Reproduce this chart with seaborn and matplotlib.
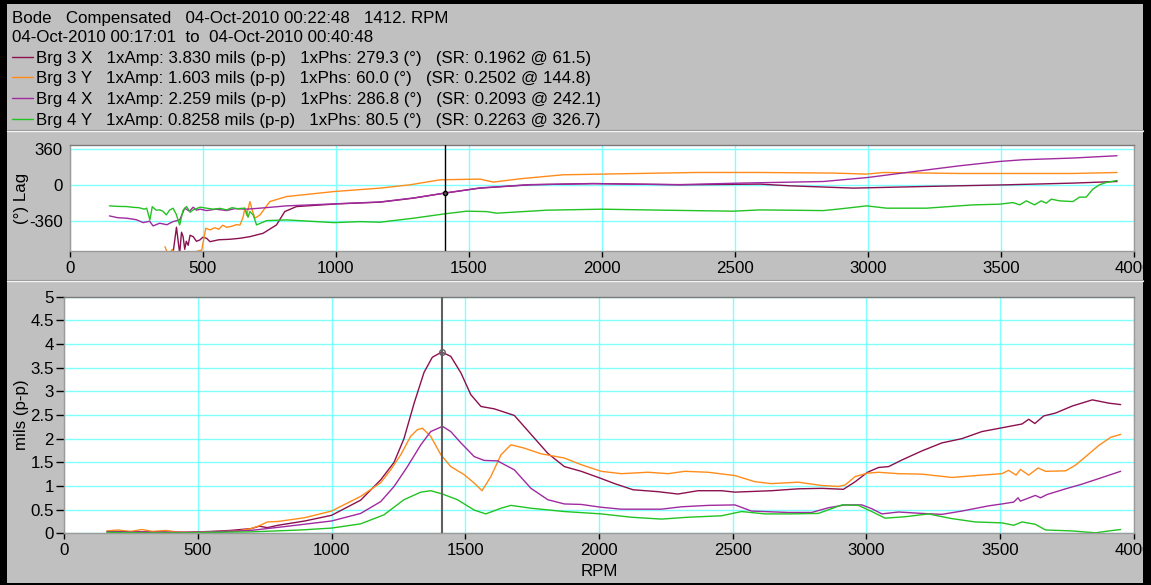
import pandas as pd
import matplotlib.pyplot as plt
import seaborn as sns
from matplotlib.patches import Rectangle
from matplotlib.lines import Line2D

# === Series names, colours and header info ===
series = ["Brg 3 X", "Brg 3 Y", "Brg 4 X", "Brg 4 Y"]
colors = ["#8B1050", "#FF8C1A", "#A02AA0", "#22C322"]
info = [
    "1xAmp: 3.830 mils (p-p)   1xPhs: 279.3 (°)   (SR: 0.1962 @ 61.5)",
    "1xAmp: 1.603 mils (p-p)   1xPhs: 60.0 (°)   (SR: 0.2502 @ 144.8)",
    "1xAmp: 2.259 mils (p-p)   1xPhs: 286.8 (°)   (SR: 0.2093 @ 242.1)",
    "1xAmp: 0.8258 mils (p-p)   1xPhs: 80.5 (°)   (SR: 0.2263 @ 326.7)",
]
header_1 = "Bode   Compensated   04-Oct-2010 00:22:48   1412. RPM"
header_2 = "04-Oct-2010 00:17:01  to  04-Oct-2010 00:40:48"
cursor_rpm = 1412
cursor_amp = 3.83
cursor_lag = -80

x_ticks = [0, 500, 1000, 1500, 2000, 2500, 3000, 3500, 4000]
amp_ticks = [0, 0.5, 1, 1.5, 2, 2.5, 3, 3.5, 4, 4.5, 5]
amp_tick_labels = ["0", "0.5", "1", "1.5", "2", "2.5", "3", "3.5", "4", "4.5", "5"]
lag_ticks = [-360, 0, 360]

# === Amplitude (mils p-p) ===
amp_rpm_3x = [160, 250, 350, 450, 550, 620, 700, 730, 760, 800, 900, 1000, 1109, 1184, 1234,
              1271, 1309, 1346, 1377, 1412, 1446, 1484, 1521, 1559, 1609, 1684, 1759, 1809,
              1871, 1934, 2003, 2059, 2128, 2221, 2296, 2371, 2459, 2509, 2646, 2746, 2834,
              2915, 2959, 3005, 3046, 3084, 3134, 3208, 3283, 3358, 3433, 3508, 3583, 3608,
              3631, 3664, 3708, 3771, 3846, 3908, 3952]
amp_3x = [0.04, 0.03, 0.03, 0.02, 0.04, 0.06, 0.10, 0.15, 0.12, 0.17, 0.26, 0.38, 0.70, 1.13,
          1.50, 2.00, 2.75, 3.40, 3.72, 3.83, 3.74, 3.39, 2.93, 2.68, 2.63, 2.49, 2.01, 1.69,
          1.41, 1.31, 1.17, 1.05, 0.92, 0.88, 0.83, 0.90, 0.90, 0.87, 0.90, 0.94, 0.95, 0.93,
          1.09, 1.29, 1.39, 1.41, 1.55, 1.74, 1.91, 2.00, 2.15, 2.23, 2.31, 2.41, 2.32, 2.48,
          2.54, 2.69, 2.82, 2.75, 2.72]

amp_rpm_3y = [160, 200, 250, 290, 330, 380, 420, 470, 520, 600, 650, 700, 730, 760, 800, 900,
              1000, 1109, 1184, 1221, 1259, 1296, 1321, 1340, 1371, 1409, 1446, 1496, 1534,
              1563, 1596, 1634, 1671, 1721, 1784, 1871, 1934, 2009, 2084, 2184, 2259, 2321,
              2409, 2509, 2584, 2646, 2746, 2834, 2896, 2921, 2959, 3005, 3046, 3121, 3209,
              3321, 3433, 3508, 3533, 3561, 3577, 3608, 3643, 3671, 3746, 3783, 3821, 3871,
              3915, 3952]
amp_3y = [0.05, 0.07, 0.04, 0.08, 0.04, 0.06, 0.03, 0.02, 0.03, 0.04, 0.05, 0.10, 0.16, 0.24,
          0.25, 0.33, 0.47, 0.78, 1.07, 1.34, 1.66, 2.05, 2.19, 2.22, 2.05, 1.66, 1.41, 1.24,
          1.06, 0.90, 1.20, 1.66, 1.87, 1.80, 1.68, 1.59, 1.45, 1.31, 1.26, 1.29, 1.26, 1.31,
          1.29, 1.22, 1.09, 1.05, 1.08, 1.01, 0.99, 1.02, 1.20, 1.27, 1.29, 1.26, 1.25, 1.18,
          1.23, 1.26, 1.33, 1.23, 1.35, 1.23, 1.38, 1.31, 1.32, 1.44, 1.62, 1.86, 2.03, 2.09]

amp_rpm_4x = [160, 300, 450, 550, 697, 822, 1000, 1109, 1184, 1234, 1284, 1334, 1371, 1415,
              1446, 1484, 1534, 1571, 1621, 1684, 1746, 1809, 1871, 1934, 2009, 2084, 2234,
              2309, 2409, 2509, 2571, 2709, 2796, 2859, 2921, 2984, 3021, 3059, 3121, 3209,
              3283, 3358, 3458, 3508, 3552, 3568, 3577, 3633, 3652, 3677, 3746, 3808, 3883,
              3952]
amp_4x = [0.03, 0.02, 0.02, 0.03, 0.06, 0.14, 0.26, 0.42, 0.67, 0.99, 1.41, 1.87, 2.15, 2.26,
          2.15, 1.91, 1.62, 1.54, 1.53, 1.34, 0.95, 0.71, 0.62, 0.61, 0.55, 0.51, 0.51, 0.56,
          0.59, 0.60, 0.47, 0.44, 0.44, 0.54, 0.60, 0.60, 0.52, 0.41, 0.45, 0.42, 0.40, 0.47,
          0.58, 0.62, 0.66, 0.75, 0.68, 0.80, 0.75, 0.82, 0.94, 1.04, 1.18, 1.31]

amp_rpm_4y = [160, 300, 450, 550, 697, 884, 1000, 1109, 1196, 1271, 1334, 1371, 1415, 1471,
              1534, 1577, 1634, 1671, 1746, 1871, 2009, 2121, 2234, 2334, 2459, 2534, 2621,
              2709, 2821, 2909, 2971, 3021, 3071, 3146, 3234, 3258, 3321, 3408, 3508, 3552,
              3583, 3633, 3671, 3771, 3858, 3908, 3952]
amp_4y = [0.02, 0.01, 0.01, 0.02, 0.03, 0.07, 0.11, 0.20, 0.39, 0.71, 0.87, 0.90, 0.83, 0.71,
          0.49, 0.41, 0.53, 0.59, 0.53, 0.46, 0.41, 0.34, 0.30, 0.34, 0.37, 0.46, 0.41, 0.41,
          0.42, 0.60, 0.59, 0.46, 0.32, 0.35, 0.41, 0.38, 0.31, 0.24, 0.22, 0.17, 0.24, 0.19,
          0.07, 0.05, 0.01, 0.05, 0.08]

# === Phase lag (degrees) ===
lag_rpm_3x = [388, 401, 413, 420, 426, 432, 438, 445, 452, 464, 476, 489, 500, 514, 527, 560,
              602, 640, 677, 727, 777, 808, 852, 1006, 1166, 1292, 1408, 1542, 1730, 1968,
              2294, 2595, 2708, 2946, 3209, 3521, 3771, 3937]
lag_3x = [-680, -420, -680, -470, -514, -640, -560, -600, -500, -514, -560, -547, -520, -530,
          -564, -545, -540, -530, -514, -480, -397, -264, -214, -187, -170, -130, -80, -30, 3,
          16, 3, 10, -7, -30, -14, 3, 20, 36]

lag_rpm_3y = [358, 370, 385, 400, 496, 511, 527, 545, 560, 575, 589, 610, 625, 640, 652, 658,
              665, 677, 687, 696, 715, 752, 815, 994, 1166, 1279, 1392, 1542, 1592, 1692, 1855,
              2136, 2356, 2595, 2871, 2996, 3059, 3346, 3771, 3937]
lag_3y = [-614, -700, -640, -720, -647, -430, -447, -425, -440, -400, -420, -410, -395, -397,
          -314, -230, -300, -164, -260, -330, -297, -164, -114, -64, -30, 3, 53, 60, 30, 63,
          103, 116, 126, 126, 120, 110, 126, 116, 116, 126]

lag_rpm_4x = [149, 180, 214, 250, 276, 300, 313, 338, 365, 388, 413, 432, 450, 464, 476, 490,
              514, 550, 589, 620, 664, 715, 815, 994, 1166, 1292, 1408, 1542, 1730, 1968, 2294,
              2520, 2833, 3000, 3146, 3346, 3496, 3584, 3771, 3937]
lag_4x = [-307, -325, -330, -345, -374, -360, -407, -380, -395, -364, -347, -230, -260, -220,
          -250, -240, -254, -240, -254, -235, -240, -230, -207, -187, -168, -128, -80, -28, 5,
          14, 5, 20, 36, 76, 126, 193, 236, 253, 270, 293]

lag_rpm_4y = [149, 180, 214, 240, 260, 280, 289, 301, 310, 325, 338, 350, 363, 375, 388, 400,
              413, 426, 439, 452, 464, 490, 514, 540, 565, 589, 610, 630, 658, 670, 677, 690,
              702, 740, 815, 994, 1091, 1166, 1292, 1408, 1492, 1567, 1605, 1705, 1793, 1999,
              2232, 2495, 2595, 2833, 2896, 2996, 3071, 3221, 3396, 3496, 3546, 3571, 3596,
              3627, 3652, 3671, 3690, 3721, 3771, 3796, 3821, 3846, 3871, 3896, 3937]
lag_4y = [-207, -212, -214, -222, -225, -240, -230, -347, -215, -250, -247, -260, -297, -250,
          -230, -290, -397, -250, -214, -270, -247, -220, -230, -240, -232, -247, -225, -235,
          -230, -320, -264, -300, -397, -354, -347, -374, -364, -370, -330, -287, -260, -264,
          -280, -264, -250, -240, -250, -260, -247, -254, -237, -207, -230, -230, -197, -190,
          -174, -197, -157, -197, -157, -180, -140, -157, -164, -120, -120, -40, 3, 26, 46]


def to_frame(rpms, values):
    parts = []
    for name, r, v in zip(series, rpms, values):
        parts.append(pd.DataFrame({"rpm": r, "value": v, "series": name}))
    return pd.concat(parts, ignore_index=True)


amp_df = to_frame([amp_rpm_3x, amp_rpm_3y, amp_rpm_4x, amp_rpm_4y], [amp_3x, amp_3y, amp_4x, amp_4y])
lag_df = to_frame([lag_rpm_3x, lag_rpm_3y, lag_rpm_4x, lag_rpm_4y], [lag_3x, lag_3y, lag_4x, lag_4y])
palette = dict(zip(series, colors))

# === Style ===
sns.set_style("white")
plt.rcParams["font.family"] = ["Liberation Sans", "DejaVu Sans"]
fs = 12.2
plt.rcParams["font.size"] = fs
for key in ("text.color", "axes.labelcolor", "xtick.color", "ytick.color"):
    plt.rcParams[key] = "black"
grid_color = "#80FFFF"
bg_gray = "#C0C0C0"

W, H = 1151, 585
fig = plt.figure(figsize=(W / 100, H / 100), dpi=100, facecolor="black")
# gray panel inside the black frame
fig.patches.append(Rectangle((7 / W, 2 / H), 1136 / W, 579 / H, transform=fig.transFigure,
                             facecolor=bg_gray, edgecolor="none", zorder=-5))
for y_sep in (131, 281):
    fig.add_artist(Line2D([7 / W, 1143 / W], [1 - (y_sep - 1) / H] * 2, color="#8A8A8A", lw=0.8))
    fig.add_artist(Line2D([7 / W, 1143 / W], [1 - y_sep / H] * 2, color="#F4F4F4", lw=1.0))


def px_axes(left, top, right, bottom):
    return fig.add_axes([left / W, 1 - bottom / H, (right - left) / W, (bottom - top) / H])


ax_lag = px_axes(69.8, 145, 1133.8, 251.3)
ax_amp = px_axes(64.2, 296.7, 1133.5, 533.3)

# === Lag panel ===
sns.lineplot(data=lag_df, x="rpm", y="value", hue="series", palette=palette, estimator=None,
             lw=1.0, legend=False, ax=ax_lag)
ax_lag.set_xlim(0, 4000)
ax_lag.set_ylim(-660, 400)
ax_lag.set_yticks(lag_ticks)
ax_lag.set_yticklabels(["-360", "0", "360"])
ax_lag.set_ylabel("(°) Lag")
ax_lag.axvline(cursor_rpm, color="black", lw=1.0, zorder=5)
ax_lag.plot([cursor_rpm], [cursor_lag], marker="o", ms=3, mfc="#555555", mec="black", zorder=6)

# === Amplitude panel ===
sns.lineplot(data=amp_df, x="rpm", y="value", hue="series", palette=palette, estimator=None,
             lw=1.0, ax=ax_amp)
handles, labels = ax_amp.get_legend_handles_labels()
ax_amp.get_legend().remove()
ax_amp.set_xlim(0, 4000)
ax_amp.set_ylim(0, 5)
ax_amp.set_yticks(amp_ticks)
ax_amp.set_yticklabels(amp_tick_labels)
ax_amp.set_xlabel("RPM", labelpad=4)
ax_amp.set_ylabel("mils (p-p)")
ax_amp.axvline(cursor_rpm, color="#606060", lw=1.5, zorder=5)
ax_amp.plot([cursor_rpm], [cursor_amp], marker="o", ms=4, mfc="none", mec="#606060", zorder=6)

for ax in (ax_lag, ax_amp):
    ax.set_facecolor("white")
    ax.set_xticks(x_ticks)
    ax.set_xticklabels([str(t) for t in x_ticks])
    if ax is ax_lag:
        ax.set_xlabel("")
    ax.grid(True, color=grid_color, lw=1.0)
    ax.set_axisbelow(True)
    ax.tick_params(axis="both", direction="out", length=4, width=1, color="black",
                   labelsize=fs, pad=3, bottom=True, left=True)
    for s in ax.spines.values():
        s.set_color("#9A9A9A")
        s.set_linewidth(1.0)
    ax.spines["top"].set_color("#7A7A7A")
    pos = ax.get_position()
    ax.yaxis.set_label_coords((29 / W - pos.x0) / pos.width, 0.5)

ax_lag.tick_params(axis="y", length=0, pad=5)
ax_amp.tick_params(axis="y", length=6, pad=1.5)

# === Header text and legend ===
fig.text(12 / W, 1 - 18 / H, header_1, va="center", ha="left", fontsize=fs)
fig.text(12 / W, 1 - 38 / H, header_2, va="center", ha="left", fontsize=fs)
fig.legend(handles, [f"{n}   {t}" for n, t in zip(series, info)], loc="upper left",
           bbox_to_anchor=(12 / W, 1 - 50.5 / H), borderaxespad=0, borderpad=0,
           handlelength=1.25, handletextpad=0.15, labelspacing=0.34, frameon=False,
           fontsize=fs)

plt.savefig("out.png", dpi=100, facecolor=fig.get_facecolor())
plt.close(fig)
